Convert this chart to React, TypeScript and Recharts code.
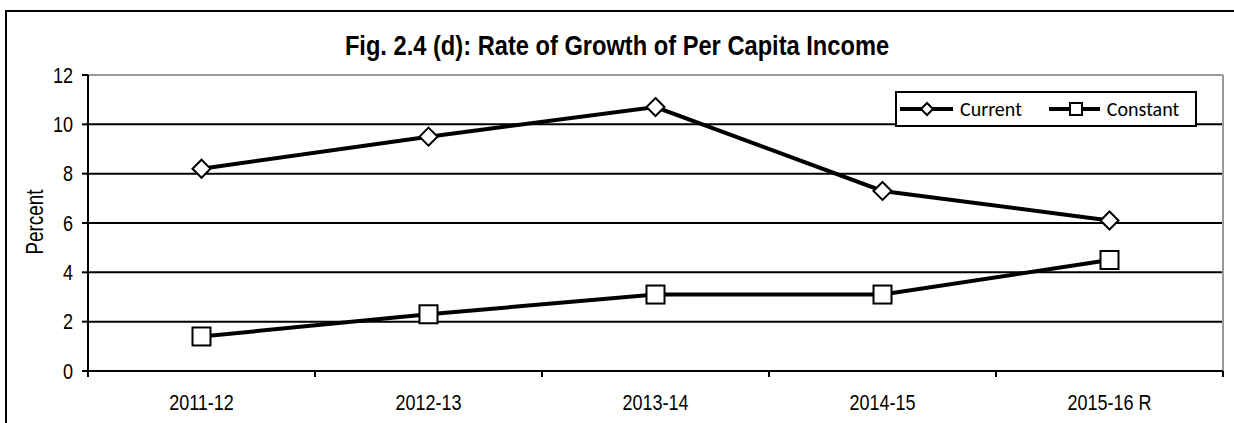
import React from 'react'
import { LineChart, Line, XAxis, YAxis, CartesianGrid, Legend } from 'recharts'

const years = ['2011-12', '2012-13', '2013-14', '2014-15', '2015-16 R']
const current = [8.2, 9.5, 10.7, 7.3, 6.1]
const constant = [1.4, 2.3, 3.1, 3.1, 4.5]
const yTicks = [0, 2, 4, 6, 8, 10, 12]

const data = years.map((year, i) => ({ year, current: current[i], constant: constant[i] }))

// no narrow face installed, so the Arial Narrow look is faked with a horizontal squeeze
const sans = "'Liberation Sans', Arial, sans-serif"
const squeeze = 0.82
const legendFont = "Carlito, Lato, 'Open Sans', sans-serif"

const Diamond = ({ cx, cy, size = 9 }: any) => {
  if (cx == null || cy == null) return null
  return (
    <polygon
      points={`${cx},${cy - size} ${cx + size},${cy} ${cx},${cy + size} ${cx - size},${cy}`}
      fill="#fff"
      stroke="#000"
      strokeWidth={2}
    />
  )
}

const Square = ({ cx, cy, size = 9 }: any) => {
  if (cx == null || cy == null) return null
  return <rect x={cx - size} y={cy - size} width={size * 2} height={size * 2} fill="#fff" stroke="#000" strokeWidth={2} />
}

// category ticks sit between the bands, labels in the middle
const XTick = ({ x, y, payload, index, visibleTicksCount }: any) => {
  const half = payload?.offset ?? 113.5
  const axisY = y - 6
  return (
    <g>
      <line x1={x - half} x2={x - half} y1={axisY} y2={axisY + 6} stroke="#000" strokeWidth={2} />
      {index === visibleTicksCount - 1 && (
        <line x1={x + half} x2={x + half} y1={axisY} y2={axisY + 6} stroke="#000" strokeWidth={2} />
      )}
      <text
        transform={`translate(${x},${axisY + 39}) scale(0.8,1)`}
        textAnchor="middle"
        fontSize={22.5}
        fontFamily={sans}
        fill="#000"
      >
        {payload.value}
      </text>
    </g>
  )
}

const YTick = ({ x, y, payload }: any) => (
  <text
    transform={`translate(${x},${y}) scale(${squeeze},1)`}
    textAnchor="end"
    dy="0.355em"
    fontSize={22}
    fontFamily={sans}
    fill="#000"
  >
    {payload.value}
  </text>
)

const LegendBox = () => (
  <div
    style={{
      boxSizing: 'border-box',
      width: 302,
      height: 36,
      border: '2px solid #000',
      background: '#fff',
      display: 'flex',
      alignItems: 'center',
      fontFamily: legendFont,
      fontSize: 20,
      color: '#000',
    }}
  >
    <svg width={55} height={20} style={{ marginLeft: 3 }}>
      <line x1={0} x2={53} y1={10} y2={10} stroke="#000" strokeWidth={4} />
      <Diamond cx={27} cy={10} size={6} />
    </svg>
    <span style={{ marginLeft: 5 }}>Current</span>
    <svg width={52} height={20} style={{ marginLeft: 27 }}>
      <line x1={0} x2={51} y1={10} y2={10} stroke="#000" strokeWidth={4} />
      <Square cx={27} cy={10} size={6} />
    </svg>
    <span style={{ marginLeft: 6 }}>Constant</span>
  </div>
)

export default function App() {
  return (
    <div style={{ position: 'absolute', left: 0, top: 0, width: 1234, height: 423, background: '#fff', overflow: 'hidden' }}>
      <div
        style={{
          position: 'absolute',
          left: 5,
          top: 10,
          width: 1229,
          height: 413,
          boxSizing: 'border-box',
          borderTop: '2px solid #000',
          borderLeft: '2px solid #000',
        }}
      />
      <div
        style={{
          position: 'absolute',
          left: 0,
          width: 1234,
          top: 30,
          textAlign: 'center',
          fontFamily: sans,
          fontWeight: 'bold',
          fontSize: 28,
          lineHeight: '32px',
          color: '#000',
          transform: 'scaleX(0.845)',
        }}
      >
        Fig. 2.4 (d): Rate of Growth of Per Capita Income
      </div>
      <div
        style={{
          position: 'absolute',
          left: 35,
          top: 222,
          transform: `translate(-50%, -50%) rotate(-90deg) scaleX(${squeeze})`,
          fontFamily: sans,
          fontSize: 23,
          lineHeight: '24px',
          color: '#000',
          whiteSpace: 'nowrap',
        }}
      >
        Percent
      </div>
      <div style={{ position: 'absolute', left: 0, top: 0 }}>
        <LineChart width={1234} height={423} data={data} margin={{ top: 75, right: 11, bottom: 22, left: 28 }}>
          <CartesianGrid vertical={false} stroke="#000" strokeWidth={2} />
          <CartesianGrid
            stroke="#999"
            strokeWidth={2}
            horizontalCoordinatesGenerator={({ offset }: any) => [offset.top]}
            verticalCoordinatesGenerator={({ offset }: any) => [offset.left + offset.width]}
          />
          <XAxis
            dataKey="year"
            scale="band"
            height={30}
            tickSize={6}
            tickMargin={0}
            tickLine={false}
            axisLine={{ stroke: '#000', strokeWidth: 2 }}
            tick={<XTick />}
            interval={0}
          />
          <YAxis
            width={60}
            domain={[0, 12]}
            ticks={yTicks}
            tickSize={6}
            tickMargin={9}
            axisLine={{ stroke: '#000', strokeWidth: 2 }}
            tickLine={{ stroke: '#000', strokeWidth: 2 }}
            tick={<YTick />}
          />
          <Legend
            layout="horizontal"
            verticalAlign="middle"
            align="center"
            wrapperStyle={{ left: 895, top: 91, width: 302, height: 36 }}
            content={<LegendBox />}
          />
          <Line
            type="linear"
            dataKey="current"
            name="Current"
            stroke="#000"
            strokeWidth={4}
            dot={<Diamond />}
            activeDot={false}
            isAnimationActive={false}
          />
          <Line
            type="linear"
            dataKey="constant"
            name="Constant"
            stroke="#000"
            strokeWidth={4}
            dot={<Square />}
            activeDot={false}
            isAnimationActive={false}
          />
        </LineChart>
      </div>
    </div>
  )
}
